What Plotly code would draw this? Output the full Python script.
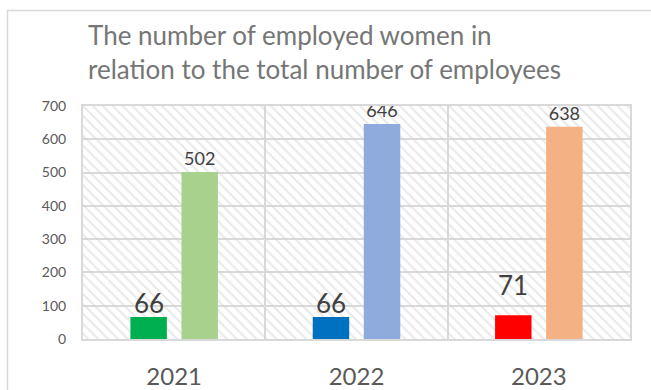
import plotly.graph_objects as go

# Data
years = ["2021", "2022", "2023"]
women = [66, 66, 71]
total = [502, 646, 638]
y_ticks = [0, 100, 200, 300, 400, 500, 600, 700]

# Colours per year
women_colors = ["#00B050", "#0070C0", "#FF0000"]
total_colors = ["#A9D18E", "#8FAADC", "#F4B183"]
label_lift = [-4, -4, 12]

W, H = 651, 390
ML, MR, MT, MB = 83, 21, 106, 51
PW, PH = W - ML - MR, H - MT - MB
y_max = y_ticks[-1]

fig = go.Figure()

# hatched plot-area background
fig.add_trace(go.Bar(
    x=years, y=[y_max] * len(years), width=1, offset=-0.5,
    marker=dict(color="rgba(0,0,0,0)", line=dict(width=0),
                pattern=dict(shape="\\", fgcolor="#D4D4D4", size=7, solidity=0.3)),
    hoverinfo="skip", showlegend=False,
))

fig.add_trace(go.Bar(
    x=years, y=women, width=0.2, offset=-0.24,
    marker=dict(color=women_colors, line=dict(width=0)),
    showlegend=False,
))

fig.add_trace(go.Bar(
    x=years, y=total, width=0.2, offset=0.04,
    marker=dict(color=total_colors, line=dict(width=0)),
    text=[str(v) for v in total], textposition="outside", cliponaxis=False,
    textfont=dict(family="Lato", size=18, color="#404040"),
    showlegend=False,
))

# women labels, placed by category index so numeric-looking names stay categorical
for i, (v, lift) in enumerate(zip(women, label_lift)):
    fig.add_annotation(
        x=i - 0.14, y=v, xref="x", yref="y", text=str(v), showarrow=False,
        yanchor="bottom", yshift=lift,
        font=dict(family="Lato", size=26, color="#404040"),
    )

# outer chart frame
fig.add_shape(
    type="rect", xref="paper", yref="paper",
    x0=(7.5 - ML) / PW, x1=(W + 2 - ML) / PW,
    y0=(H - MB - (H + 5)) / PH, y1=(H - MB - 10.5) / PH,
    line=dict(color="#D9D9D9", width=1.5), layer="below",
)

fig.update_layout(
    width=W, height=H,
    margin=dict(l=ML, r=MR, t=MT, b=MB, autoexpand=False),
    paper_bgcolor="white", plot_bgcolor="white",
    barmode="overlay",
    title=dict(
        text="The number of employed women in<br>relation to the total number of employees",
        xref="container", x=88 / W, xanchor="left",
        yref="container", y=1 - 45 / H, yanchor="top",
        font=dict(family="Lato", size=26, color="#767676"),
    ),
    xaxis=dict(
        type="category", range=[-0.5, len(years) - 0.5],
        tickson="boundaries", showgrid=True,
        gridcolor="#D9D9D9", gridwidth=2, ticks="", tickangle=0,
        showline=True, linecolor="#D9D9D9", linewidth=2, mirror=True,
        tickfont=dict(family="Lato", size=24, color="#595959"),
        ticklabelstandoff=15,
    ),
    yaxis=dict(
        range=[0, y_max], tickvals=y_ticks, showgrid=True,
        gridcolor="#D9D9D9", gridwidth=2, zeroline=False,
        showline=True, linecolor="#D9D9D9", linewidth=2, mirror=True,
        tickfont=dict(family="Lato", size=14, color="#595959"),
        ticklabelstandoff=12,
    ),
)

fig.write_html("out.html")
